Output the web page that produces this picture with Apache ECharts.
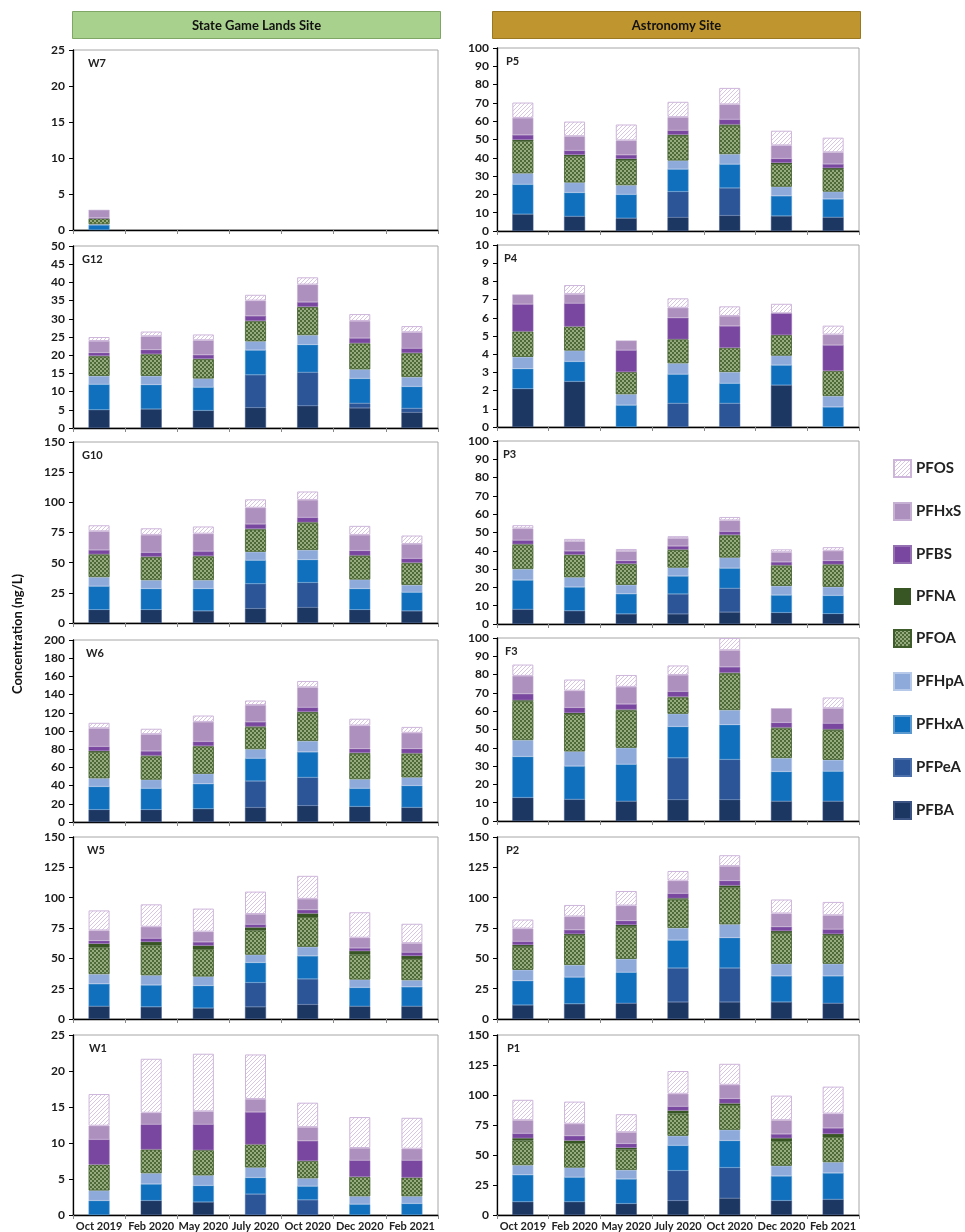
<!DOCTYPE html>
<html>
<head>
<meta charset="utf-8">
<script src="https://cdn.jsdelivr.net/npm/echarts@6/dist/echarts.min.js"></script>
<style>
  html, body { margin: 0; padding: 0; background: #fff; }
  #chart { width: 965px; height: 1232px; }
</style>
</head>
<body>
<div id="chart"></div>
<script>
// sampling dates and compounds (bottom -> top of each stack)
const months = ['Oct 2019', 'Feb 2020', 'May 2020', 'July 2020', 'Oct 2020', 'Dec 2020', 'Feb 2021']
const compounds = ['PFBA', 'PFPeA', 'PFHxA', 'PFHpA', 'PFOA', 'PFNA', 'PFBS', 'PFHxS', 'PFOS']

// ng/L, one row per compound in the order above
const W7 = [
  [0, 0, 0, 0, 0, 0, 0],
  [0, 0, 0, 0, 0, 0, 0],
  [0.7, 0, 0, 0, 0, 0, 0],
  [0.1, 0, 0, 0, 0, 0, 0],
  [0.8, 0, 0, 0, 0, 0, 0],
  [0, 0, 0, 0, 0, 0, 0],
  [0.1, 0, 0, 0, 0, 0, 0],
  [1.1, 0, 0, 0, 0, 0, 0],
  [0, 0, 0, 0, 0, 0, 0]
]
const G12 = [
  [5, 5.2, 4.8, 5.6, 6.1, 5.5, 4.3],
  [0, 0, 0, 9.0, 9.2, 1.3, 1.1],
  [7, 6.7, 6.4, 6.8, 7.6, 6.8, 6.0],
  [2.3, 2.4, 2.4, 2.4, 2.6, 2.5, 2.6],
  [5.3, 5.9, 5.3, 5.5, 7.7, 7.1, 6.5],
  [0.2, 0.1, 0.1, 0.1, 0.1, 0.1, 0.1],
  [0.9, 1.2, 1.1, 1.4, 1.3, 1.4, 1.3],
  [3.2, 3.7, 4.0, 4.2, 4.8, 4.7, 4.4],
  [1.1, 1.3, 1.6, 1.6, 2.0, 1.9, 1.7]
]
const G10 = [
  [11, 11, 10, 12, 13, 11, 10],
  [0, 0, 0, 20.5, 20.5, 0, 0],
  [19.5, 17.5, 18.5, 19.5, 19, 17.5, 15.5],
  [7.5, 7, 7, 7, 8, 7.5, 6],
  [18.5, 19, 19.5, 18.5, 22.5, 19.5, 18],
  [0.5, 0.5, 0.5, 0.5, 0.5, 0.5, 0.5],
  [3.5, 3.5, 4, 4, 4, 4, 3.5],
  [15.5, 14.5, 14.5, 13.5, 14.5, 13, 12],
  [5, 5.5, 6, 7, 7, 7.5, 7]
]
const W6 = [
  [13.5, 13.5, 14.5, 16, 18, 17, 16],
  [0, 0, 0, 29, 31, 0, 0],
  [25.5, 23.5, 27.5, 25, 28, 20, 24],
  [9, 9.5, 11, 10, 12, 10, 9],
  [29, 25.5, 30, 24, 31, 28, 26],
  [1, 1, 0.5, 1, 1, 1, 0.5],
  [5, 5, 5, 5, 5, 4.5, 5],
  [20, 18.5, 21.5, 18.5, 22, 25.5, 17.5],
  [6, 6, 7, 5, 7, 7.5, 6.5]
]
const W5 = [
  [10.5, 10, 9, 10, 12, 10.5, 10.5],
  [0, 0, 0, 20, 21, 0, 0],
  [18.5, 18, 18.5, 16.5, 19, 15.5, 16],
  [8, 8, 7.5, 6.5, 7.5, 6.5, 5.5],
  [22, 24.5, 22.5, 20, 24.5, 20.5, 17.5],
  [3, 3, 3, 2.5, 3, 3, 2.5],
  [2.5, 3, 3, 2.5, 3, 2.5, 3],
  [8.5, 9.5, 8.5, 8.5, 9, 8.5, 7.5],
  [16.5, 18.5, 19, 18.5, 19, 21, 16]
]
const W1 = [
  [0, 2.0, 1.8, 0, 0, 0, 0],
  [0, 0, 0, 2.9, 2.1, 0, 0],
  [2.0, 2.3, 2.3, 2.3, 1.9, 1.5, 1.6],
  [1.4, 1.5, 1.4, 1.4, 1.1, 1.1, 1.0],
  [3.6, 3.3, 3.5, 3.2, 2.4, 2.7, 2.6],
  [0, 0, 0, 0, 0, 0, 0],
  [3.5, 3.5, 3.6, 4.5, 2.8, 2.3, 2.4],
  [1.9, 1.6, 1.8, 1.8, 1.9, 1.7, 1.6],
  [4.4, 7.5, 8.0, 6.2, 3.4, 4.3, 4.3]
]
const P5 = [
  [9.2, 8, 7, 7.5, 8.5, 8.2, 7.5],
  [0, 0, 0, 14, 15, 0, 0],
  [16.3, 13, 13, 12.3, 13, 11, 10],
  [6, 5.5, 5, 4.7, 5.5, 5, 4],
  [17.7, 14.5, 13.8, 13.5, 15.5, 12.4, 12.3],
  [0.6, 0.6, 0.6, 0.6, 0.7, 0.6, 0.6],
  [2.7, 2.4, 2.2, 2.4, 2.8, 2.4, 2.2],
  [9.3, 7.8, 7.9, 7.2, 8.2, 7.2, 6.4],
  [8.4, 8, 8.7, 8.4, 9, 8, 8]
]
const P4 = [
  [2.1, 2.5, 0, 0, 0, 2.3, 0],
  [0, 0, 0, 1.3, 1.3, 0, 0],
  [1.1, 1.1, 1.2, 1.6, 1.1, 1.1, 1.1],
  [0.65, 0.6, 0.6, 0.6, 0.62, 0.52, 0.6],
  [1.4, 1.32, 1.22, 1.32, 1.33, 1.13, 1.38],
  [0, 0, 0, 0, 0, 0, 0],
  [1.5, 1.28, 1.2, 1.18, 1.2, 1.2, 1.42],
  [0.53, 0.5, 0.53, 0.55, 0.55, 0, 0.58],
  [0, 0.5, 0, 0.52, 0.53, 0.52, 0.49]
]
const P3 = [
  [8, 7.2, 5.5, 5.5, 6.5, 6.2, 5.6],
  [0, 0, 0, 10.9, 13, 0, 0],
  [16, 13, 11, 9.8, 11, 9.6, 10],
  [6, 5.3, 4.9, 4.6, 5.8, 5, 4.7],
  [13.3, 12.1, 11.2, 9.6, 12, 11, 12],
  [0.3, 0.3, 0.3, 0.3, 0.4, 0.3, 0.3],
  [2.2, 2, 1.7, 1.9, 1.9, 1.8, 2],
  [6.4, 5.3, 5.2, 4.3, 6, 5.3, 5.4],
  [1.8, 1.3, 1.2, 1.1, 1.9, 1.6, 2]
]
const F3 = [
  [12.8, 11.8, 10.8, 11.6, 11.6, 10.8, 10.8],
  [0, 0, 0, 22.9, 22, 0, 0],
  [22.4, 18.2, 20.2, 17.1, 19, 16.2, 16.4],
  [9, 8, 9, 7, 8, 7.4, 6.2],
  [21.2, 20.4, 20.3, 8.9, 19.9, 16.2, 16.2],
  [0.6, 0.6, 0.6, 0.4, 0.5, 0.5, 0.5],
  [3.5, 3, 3, 2.9, 3.2, 2.7, 3.3],
  [9.8, 9.2, 9.4, 9, 9.1, 7.8, 8.2],
  [6.2, 6.1, 6.5, 5.2, 6.7, 0, 5.9]
]
const P2 = [
  [11.5, 12.5, 13, 14, 14, 14, 13],
  [0, 0, 0, 28, 28, 0, 0],
  [20, 22, 25.5, 23, 25, 21.5, 22.5],
  [9, 10, 11, 10, 11, 10, 10],
  [19, 24.5, 26.5, 23.5, 30.5, 25.5, 23.5],
  [1.5, 1, 1.5, 1, 1.5, 1.5, 1],
  [3, 3.5, 3.5, 4, 4, 3.5, 4],
  [10.5, 11, 12.5, 10.5, 12, 11, 11.5],
  [7.5, 9.5, 12, 8, 9, 11.5, 11]
]
const P1 = [
  [11, 11, 9.5, 12, 14, 12, 13],
  [0, 0, 0, 25, 25.5, 0, 0],
  [22.5, 20.5, 20.5, 21, 22.5, 20.5, 22],
  [8, 8, 7.5, 8, 9, 8.5, 9],
  [20.5, 20.5, 17, 18.5, 20.5, 20.5, 21],
  [2, 2, 1.5, 2.5, 1.5, 2.5, 2.5],
  [4, 4, 3.5, 3.5, 4, 3.5, 5],
  [11, 10, 9.5, 10.5, 11.5, 11.5, 12],
  [17, 18.5, 15, 19, 17.5, 20.5, 22.5]
]

// panel layout: name, data, axis max / step, plot box
const panels = [
  { name: 'W7', data: W7, max: 25, step: 5, left: 73, top: 50, bottom: 230, lx: 88 },
  { name: 'G12', data: G12, max: 50, step: 5, left: 73, top: 246, bottom: 428, lx: 82 },
  { name: 'G10', data: G10, max: 150, step: 25, left: 73, top: 442, bottom: 623, lx: 82 },
  { name: 'W6', data: W6, max: 200, step: 20, left: 73, top: 640, bottom: 822, lx: 86 },
  { name: 'W5', data: W5, max: 150, step: 25, left: 73, top: 837, bottom: 1019, lx: 87 },
  { name: 'W1', data: W1, max: 25, step: 5, left: 73, top: 1035, bottom: 1218, lx: 89 },
  { name: 'P5', data: P5, max: 100, step: 10, left: 497, top: 48, bottom: 231, lx: 506 },
  { name: 'P4', data: P4, max: 10, step: 1, left: 497, top: 245, bottom: 427, lx: 504 },
  { name: 'P3', data: P3, max: 100, step: 10, left: 497, top: 441, bottom: 624, lx: 503 },
  { name: 'F3', data: F3, max: 100, step: 10, left: 497, top: 638, bottom: 821, lx: 505 },
  { name: 'P2', data: P2, max: 150, step: 25, left: 497, top: 837, bottom: 1019, lx: 506 },
  { name: 'P1', data: P1, max: 150, step: 25, left: 497, top: 1035, bottom: 1218, lx: 507 }
]
const bottomRow = ['W1', 'P1']
const FONT = 'Lato, "Open Sans", "DejaVu Sans", sans-serif'

function hatch () {
  const c = document.createElement('canvas')
  c.width = 4
  c.height = 4
  const ctx = c.getContext('2d')
  ctx.fillStyle = '#ffffff'
  ctx.fillRect(0, 0, 4, 4)
  ctx.strokeStyle = '#dac5e4'
  ctx.lineWidth = 1
  ctx.beginPath()
  ctx.moveTo(-1, 5)
  ctx.lineTo(5, -1)
  ctx.moveTo(3, 5)
  ctx.lineTo(5, 3)
  ctx.moveTo(-1, 1)
  ctx.lineTo(1, -1)
  ctx.stroke()
  return c
}
function checker () {
  const c = document.createElement('canvas')
  c.width = 4
  c.height = 4
  const ctx = c.getContext('2d')
  ctx.fillStyle = '#97ab80'
  ctx.fillRect(0, 0, 4, 4)
  ctx.fillStyle = '#4d6a37'
  ctx.fillRect(0, 0, 2, 2)
  ctx.fillRect(2, 2, 2, 2)
  return c
}

const styles = {
  PFBA: { color: '#1d3763', borderColor: '#3a5382', borderWidth: 0.5 },
  PFPeA: { color: '#2b5597', borderColor: '#4a6fab', borderWidth: 0.5 },
  PFHxA: { color: '#1170bd', borderColor: '#5a98d0', borderWidth: 0.5 },
  PFHpA: { color: '#8eaadb', borderColor: '#b7c9e8', borderWidth: 0.5 },
  PFOA: { color: { image: checker(), repeat: 'repeat' }, borderColor: '#3f5d2a', borderWidth: 0.8 },
  PFNA: { color: '#375623' },
  PFBS: { color: '#7a47a0', borderColor: '#9570b3', borderWidth: 0.5 },
  PFHxS: { color: '#ae90bf', borderColor: '#c6b0d3', borderWidth: 0.5 },
  PFOS: { color: { image: hatch(), repeat: 'repeat' }, borderColor: '#cdb6da', borderWidth: 1 }
}

const grid = []
const xAxis = []
const yAxis = []
const series = []
const graphic = []

panels.forEach((p, i) => {
  const isBottom = bottomRow.indexOf(p.name) >= 0
  const w = p.left === 73 ? 365 : 362
  grid.push({
    left: p.left, top: p.top, width: w, height: p.bottom - p.top,
    show: true, borderColor: '#a6a6a6', borderWidth: 1, backgroundColor: 'transparent'
  })
  xAxis.push({
    type: 'category', gridIndex: i, data: months,
    axisLine: { lineStyle: { color: '#000', width: 1.3 } },
    axisTick: { show: true, length: 4, lineStyle: { color: '#888' } },
    axisLabel: { show: isBottom, margin: 6, fontSize: 11, fontWeight: 'bold', color: '#222', fontFamily: FONT, interval: 0 }
  })
  yAxis.push({
    type: 'value', gridIndex: i, min: 0, max: p.max, interval: p.step,
    axisLine: { show: true, lineStyle: { color: '#000', width: 1.3 } },
    axisTick: { show: true, length: 4, lineStyle: { color: '#000' } },
    splitLine: { show: false },
    axisLabel: { margin: 8, fontSize: 12, fontWeight: 'bold', color: '#1a1a1a', fontFamily: FONT }
  })
  compounds.forEach((c, k) => {
    series.push({
      type: 'bar', name: c, xAxisIndex: i, yAxisIndex: i, stack: 'st' + i,
      barWidth: 21, silent: true,
      data: p.data[k].map(v => (v === 0 ? '-' : v)),
      itemStyle: styles[c]
    })
  })
  graphic.push({
    type: 'text', left: p.lx, top: p.top + 8,
    style: { text: p.name, font: 'bold 11px ' + FONT, fill: '#222' }
  })
})

// site headers
graphic.push({
  type: 'group', left: 72, top: 11,
  children: [
    { type: 'rect', shape: { width: 368, height: 27 }, style: { fill: '#a9d18e', stroke: '#7fa665', lineWidth: 1 } },
    { type: 'text', style: { text: 'State Game Lands Site', x: 184, y: 14, align: 'center', verticalAlign: 'middle', font: 'bold 13px ' + FONT, fill: '#111' } }
  ]
})
graphic.push({
  type: 'group', left: 492, top: 11,
  children: [
    { type: 'rect', shape: { width: 368, height: 27 }, style: { fill: '#bf9530', stroke: '#9a7822', lineWidth: 1 } },
    { type: 'text', style: { text: 'Astronomy Site', x: 184, y: 14, align: 'center', verticalAlign: 'middle', font: 'bold 13px ' + FONT, fill: '#111' } }
  ]
})
// y axis title
graphic.push({
  type: 'text', x: 18, y: 634, rotation: Math.PI / 2,
  style: { text: 'Concentration (ng/L)', align: 'center', verticalAlign: 'middle', font: 'bold 13px ' + FONT, fill: '#111' }
})

const chart = echarts.init(document.getElementById('chart'), null, { renderer: 'canvas' })
chart.setOption({
  animation: false,
  backgroundColor: '#fff',
  grid: grid,
  xAxis: xAxis,
  yAxis: yAxis,
  series: series,
  graphic: graphic,
  legend: {
    orient: 'vertical', left: 888, top: 454,
    data: compounds.slice().reverse(),
    icon: 'rect', itemWidth: 17, itemHeight: 17, itemGap: 24,
    selectedMode: false,
    textStyle: { fontSize: 15, fontWeight: 'bold', color: '#222', fontFamily: 'Lato, sans-serif' }
  }
})
</script>
</body>
</html>
